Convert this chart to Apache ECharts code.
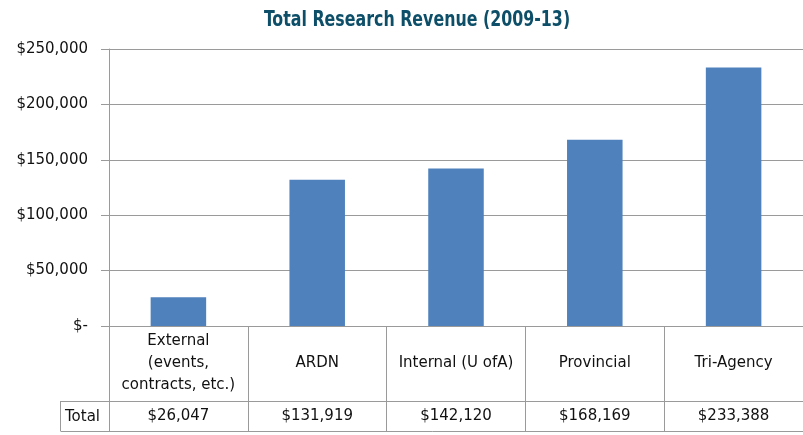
<!DOCTYPE html>
<html>
<head>
<meta charset="utf-8">
<title>Total Research Revenue (2009-13)</title>
<script src="https://cdn.jsdelivr.net/npm/echarts@6/dist/echarts.min.js"></script>
<style>
  html, body { margin: 0; padding: 0; background: #fff; }
  #chart { width: 803px; height: 435px; }
</style>
</head>
<body>
<div id="chart"></div>
<script>
// data
const categories = ['External\n(events,\ncontracts, etc.)', 'ARDN', 'Internal (U ofA)', 'Provincial', 'Tri-Agency']
const totals = [26047, 131919, 142120, 168169, 233388]
const yTicks = [0, 50000, 100000, 150000, 200000, 250000]

const money = v => v === 0 ? '$-' : '$' + v.toLocaleString('en-US')
const lineColor = '#9a9a9a'
const textFont = 'DejaVu Sans'

const chart = echarts.init(document.getElementById('chart'))

const gridLeft = 109
const gridTop = 49
const gridBottomY = 326
const rowH1 = 75
const rowH2 = 30

const option = {
  animation: false,
  grid: {
    left: gridLeft,
    right: -3,
    top: gridTop,
    bottom: 435 - gridBottomY
  },
  xAxis: [
    {
      type: 'category',
      data: categories,
      position: 'bottom',
      axisLine: { lineStyle: { color: lineColor, width: 1 } },
      axisTick: { show: true, length: rowH1, lineStyle: { color: lineColor } },
      axisLabel: {
        interval: 0,
        margin: rowH1 / 2,
        verticalAlign: 'middle',
        fontFamily: textFont,
        fontSize: 15,
        lineHeight: 22,
        color: '#111'
      }
    },
    {
      type: 'category',
      data: totals.map(money),
      position: 'bottom',
      offset: rowH1,
      axisLine: { show: true, lineStyle: { color: lineColor, width: 1 } },
      axisTick: { show: true, length: rowH2, lineStyle: { color: lineColor } },
      axisLabel: {
        interval: 0,
        margin: rowH2 / 2,
        verticalAlign: 'middle',
        fontFamily: textFont,
        fontSize: 15,
        color: '#111'
      }
    }
  ],
  yAxis: {
    type: 'value',
    min: yTicks[0],
    max: yTicks[yTicks.length - 1],
    interval: yTicks[1] - yTicks[0],
    axisLine: { show: true, lineStyle: { color: lineColor, width: 1 } },
    axisTick: { show: true, length: 8, lineStyle: { color: lineColor } },
    splitLine: { show: true, lineStyle: { color: lineColor, width: 1 } },
    axisLabel: {
      margin: 21,
      fontFamily: textFont,
      fontSize: 15,
      color: '#111',
      formatter: money
    }
  },
  series: [
    {
      type: 'bar',
      xAxisIndex: 0,
      data: totals,
      barWidth: '40%',
      itemStyle: { color: '#4f81bd' }
    }
  ],
  graphic: [
    // condensed bold title
    {
      type: 'text',
      x: 417,
      y: 20,
      scaleX: 0.8,
      style: {
        text: 'Total Research Revenue (2009-13)',
        fontFamily: 'DejaVu Sans Condensed, DejaVu Sans, sans-serif',
        fontWeight: 'bold',
        fontSize: 22,
        fill: '#0d4e68',
        align: 'center',
        verticalAlign: 'middle'
      }
    },
    // table frame pieces outside the grid: left column with "Total"
    {
      type: 'line',
      shape: { x1: gridLeft + 0.5, y1: gridBottomY, x2: gridLeft + 0.5, y2: gridBottomY + rowH1 + rowH2 },
      style: { stroke: lineColor, lineWidth: 1 }
    },
    {
      type: 'line',
      shape: { x1: 60.5, y1: gridBottomY + rowH1 + 0.5, x2: gridLeft, y2: gridBottomY + rowH1 + 0.5 },
      style: { stroke: lineColor, lineWidth: 1 }
    },
    {
      type: 'line',
      shape: { x1: 60.5, y1: gridBottomY + rowH1, x2: 60.5, y2: gridBottomY + rowH1 + rowH2 },
      style: { stroke: lineColor, lineWidth: 1 }
    },
    {
      type: 'line',
      shape: { x1: 60.5, y1: gridBottomY + rowH1 + rowH2 + 0.5, x2: 810, y2: gridBottomY + rowH1 + rowH2 + 0.5 },
      style: { stroke: lineColor, lineWidth: 1 }
    },
    {
      type: 'text',
      x: 65,
      y: gridBottomY + rowH1 + rowH2 / 2 + 1,
      style: { text: 'Total', fontFamily: textFont, fontSize: 15, fill: '#111', verticalAlign: 'middle' }
    }
  ]
}

chart.setOption(option)
</script>
</body>
</html>
